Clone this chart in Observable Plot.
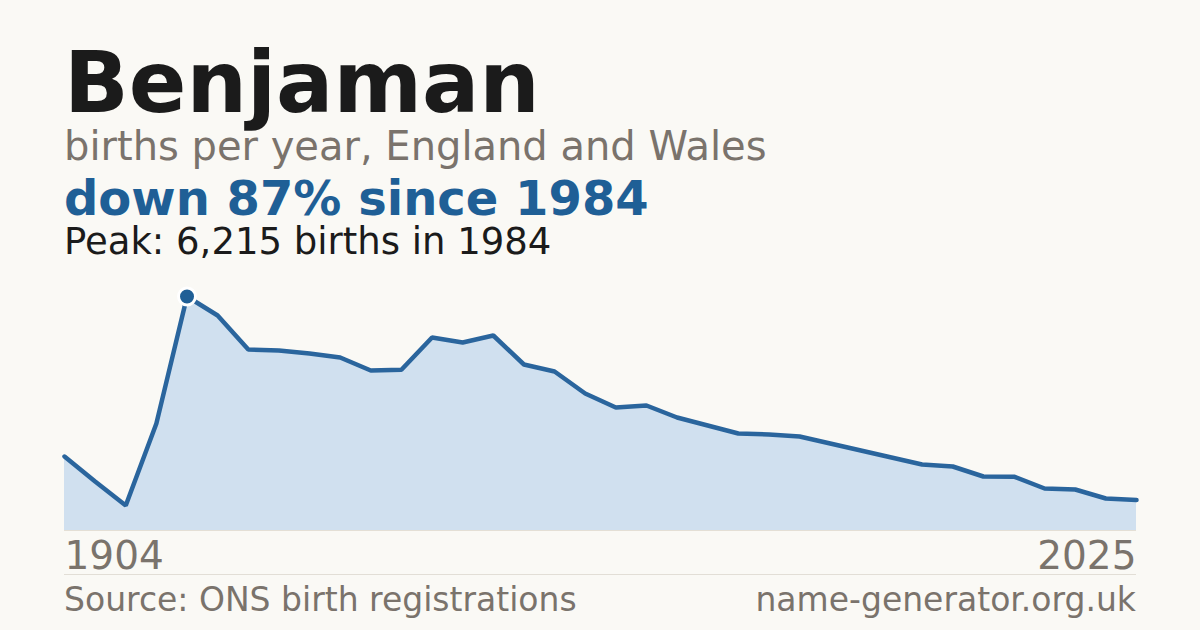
<!DOCTYPE html>
<html>
<head>
<meta charset="utf-8">
<script src="https://cdn.jsdelivr.net/npm/d3@7"></script>
<script src="https://cdn.jsdelivr.net/npm/@observablehq/plot@0.6"></script>
<style>
  html, body { margin: 0; padding: 0; }
  body { width: 1200px; height: 630px; background: #faf9f5; position: relative; overflow: hidden;
         font-family: "DejaVu Sans", sans-serif; }
  .t { position: absolute; left: 64px; white-space: nowrap; line-height: 0.8; }
  #title { top: 49px; font-size: 85px; font-weight: bold; color: #1b1b1b; }
  #sub { top: 130px; font-size: 40px; color: #7a736c; }
  #delta { top: 179px; font-size: 48px; font-weight: bold; color: #1f5f96; }
  #peak { top: 227px; font-size: 37px; color: #1b1b1b; }
  #chart { position: absolute; left: 0; top: 270px; }
  #sep { position: absolute; left: 64px; width: 1072px; top: 574px; height: 1px; background: #e2ded6; }
  .foot { position: absolute; top: 587px; font-size: 33px; color: #7a736c; line-height: 0.8; white-space: nowrap; }
  #src { left: 64px; }
  #site { right: 64px; }
</style>
</head>
<body>
<div id="title" class="t">Benjaman</div>
<div id="sub" class="t">births per year, England and Wales</div>
<div id="delta" class="t">down 87% since 1984</div>
<div id="peak" class="t">Peak: 6,215 births in 1984</div>
<div id="chart"></div>
<div id="sep"></div>
<div id="src" class="foot">Source: ONS birth registrations</div>
<div id="site" class="foot">name-generator.org.uk</div>
<script>
const years = [1904, 1924, 1944, 1964, 1984, 1994,
  1996, 1997, 1998, 1999, 2000, 2001, 2002, 2003, 2004, 2005, 2006, 2007, 2008, 2009,
  2010, 2011, 2012, 2013, 2014, 2015, 2016, 2017, 2018, 2019, 2020, 2021, 2022, 2023, 2024, 2025];
const births = [1965, 1301, 664, 2842, 6215, 5710,
  4807, 4781, 4701, 4595, 4250, 4270, 5126, 4993, 5179, 4409, 4223, 3639, 3267, 3320,
  3001, 2789, 2576, 2550, 2497, 2311, 2125, 1939, 1753, 1700, 1434, 1430, 1116, 1089, 850, 808];
const tickYears = [years[0], years[years.length - 1]];

const data = years.map((year, i) => ({year, births: births[i]}));
const peakValue = d3.max(births);
const peak = data.filter(d => d.births === peakValue);

const blue = "#1f5f96";
const grey = "#7a736c";

const chart = Plot.plot({
  width: 1200,
  height: 305,
  marginLeft: 64,
  marginRight: 64,
  marginTop: 26,
  marginBottom: 45,
  style: {background: "transparent", fontFamily: "DejaVu Sans, sans-serif", overflow: "visible"},
  x: {type: "point", domain: years, padding: 0, round: false},
  y: {domain: [0, peakValue], axis: null},
  marks: [
    Plot.areaY(data, {x: "year", y: "births", fill: "#d0e0ef"}),
    Plot.ruleY([0], {stroke: "#e4dfd5", strokeWidth: 1}),
    Plot.lineY(data, {x: "year", y: "births", stroke: "#2a659d", strokeWidth: 4.5, strokeLinejoin: "miter"}),
    Plot.dot(peak, {x: "year", y: "births", r: 8.5, fill: blue, stroke: "white", strokeWidth: 3}),
    Plot.axisX({ticks: [tickYears[0]], tickSize: 0, tickPadding: 11, textAnchor: "start",
                tickFormat: d => String(d), fontSize: 39, fill: grey, label: null}),
    Plot.axisX({ticks: [tickYears[1]], tickSize: 0, tickPadding: 11, textAnchor: "end",
                tickFormat: d => String(d), fontSize: 39, fill: grey, label: null})
  ]
});
document.getElementById("chart").appendChild(chart);
</script>
</body>
</html>
